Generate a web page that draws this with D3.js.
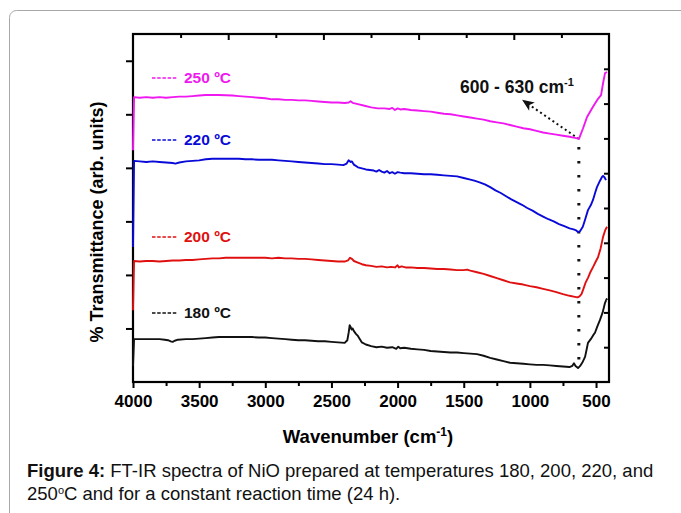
<!DOCTYPE html>
<html><head><meta charset="utf-8">
<script src="https://cdn.jsdelivr.net/npm/d3@7"></script>
<style>body{margin:0;background:#fff}svg{display:block}</style>
</head><body>
<script>
// ---- data ----
const seriesNames = ["180 ºC", "200 ºC", "220 ºC", "250 ºC"];
const seriesColors = ["#111111", "#e01010", "#0a0ad8", "#f018f0"];
const xTickValues = [4000, 3500, 3000, 2500, 2000, 1500, 1000, 500];
// [wavenumber (cm-1), transmittance (arb.)]
const s180 = [[4000,0.3],[3992,0.80],[3950,0.80],[3900,0.80],[3850,0.80],[3800,0.80],[3760,0.79],[3735,0.78],[3715,0.76],[3700,0.75],[3685,0.77],[3660,0.79],[3600,0.80],[3550,0.80],[3500,0.81],[3450,0.82],[3400,0.83],[3350,0.84],[3300,0.84],[3250,0.84],[3200,0.84],[3150,0.84],[3100,0.84],[3050,0.83],[3000,0.83],[2950,0.82],[2900,0.81],[2850,0.80],[2800,0.79],[2750,0.78],[2700,0.78],[2650,0.77],[2600,0.76],[2550,0.76],[2500,0.75],[2450,0.74],[2400,0.73],[2380,0.78],[2370,0.92],[2362,1.06],[2355,1.03],[2348,0.98],[2340,1.00],[2330,0.95],[2315,0.90],[2300,0.86],[2285,0.80],[2270,0.74],[2240,0.70],[2200,0.67],[2160,0.65],[2120,0.66],[2080,0.64],[2040,0.65],[2010,0.62],[1995,0.66],[1980,0.63],[1950,0.64],[1900,0.62],[1850,0.61],[1800,0.60],[1750,0.58],[1700,0.57],[1650,0.56],[1600,0.55],[1550,0.55],[1500,0.54],[1450,0.53],[1400,0.52],[1350,0.49],[1300,0.45],[1250,0.42],[1200,0.39],[1150,0.36],[1100,0.35],[1050,0.34],[1000,0.33],[950,0.32],[900,0.32],[850,0.31],[800,0.30],[750,0.29],[700,0.28],[680,0.30],[667,0.35],[655,0.30],[636,0.26],[620,0.30],[600,0.38],[583,0.47],[570,0.62],[561,0.73],[540,0.80],[520,0.88],[508,0.92],[490,1.04],[470,1.16],[450,1.30],[432,1.48],[420,1.55],[417,1.53]];
const s200 = [[4000,1.34],[3992,2.26],[3950,2.25],[3900,2.26],[3850,2.26],[3800,2.25],[3750,2.26],[3700,2.27],[3650,2.27],[3600,2.28],[3550,2.28],[3500,2.29],[3450,2.30],[3400,2.31],[3350,2.31],[3300,2.32],[3250,2.32],[3200,2.32],[3150,2.32],[3100,2.32],[3050,2.32],[3000,2.32],[2950,2.31],[2900,2.32],[2850,2.31],[2800,2.31],[2750,2.30],[2700,2.30],[2650,2.29],[2600,2.28],[2550,2.27],[2500,2.26],[2450,2.25],[2400,2.25],[2375,2.27],[2360,2.32],[2345,2.30],[2330,2.26],[2300,2.23],[2270,2.20],[2240,2.18],[2200,2.17],[2160,2.15],[2120,2.16],[2080,2.14],[2050,2.15],[2020,2.14],[2000,2.18],[1990,2.14],[1970,2.16],[1940,2.14],[1900,2.14],[1850,2.13],[1800,2.13],[1750,2.12],[1700,2.11],[1650,2.11],[1600,2.10],[1550,2.09],[1500,2.09],[1475,2.10],[1450,2.08],[1400,2.05],[1350,2.02],[1300,1.98],[1250,1.94],[1200,1.90],[1150,1.86],[1100,1.84],[1050,1.82],[1000,1.79],[950,1.77],[900,1.74],[850,1.71],[800,1.68],[750,1.64],[700,1.61],[660,1.59],[640,1.58],[625,1.60],[610,1.64],[598,1.72],[580,1.85],[560,1.95],[545,2.04],[520,2.16],[500,2.26],[485,2.33],[465,2.50],[447,2.71],[430,2.84],[417,2.90]];
const s220 = [[4000,2.52],[3992,4.13],[3950,4.12],[3900,4.11],[3850,4.12],[3800,4.11],[3750,4.10],[3700,4.09],[3680,4.08],[3650,4.10],[3600,4.12],[3550,4.13],[3500,4.14],[3450,4.16],[3400,4.17],[3350,4.17],[3300,4.17],[3250,4.17],[3200,4.17],[3150,4.16],[3100,4.16],[3050,4.15],[3000,4.15],[2950,4.15],[2900,4.14],[2850,4.13],[2800,4.12],[2750,4.11],[2700,4.10],[2650,4.09],[2600,4.08],[2550,4.07],[2500,4.07],[2450,4.06],[2410,4.05],[2385,4.08],[2370,4.14],[2355,4.11],[2345,4.12],[2330,4.06],[2300,4.01],[2270,3.99],[2240,3.97],[2210,3.96],[2180,3.95],[2160,3.93],[2140,3.96],[2120,3.93],[2100,3.91],[2080,3.94],[2060,3.90],[2040,3.92],[2020,3.89],[2000,3.92],[1980,3.91],[1950,3.90],[1900,3.90],[1850,3.89],[1800,3.88],[1750,3.88],[1700,3.87],[1650,3.86],[1600,3.85],[1550,3.84],[1500,3.81],[1450,3.78],[1420,3.76],[1380,3.73],[1340,3.69],[1300,3.64],[1260,3.58],[1220,3.53],[1180,3.47],[1140,3.41],[1100,3.36],[1060,3.31],[1020,3.25],[980,3.20],[940,3.14],[900,3.09],[860,3.04],[820,3.00],[780,2.95],[740,2.91],[700,2.87],[670,2.85],[650,2.83],[636,2.80],[620,2.82],[600,2.90],[583,3.03],[561,3.21],[540,3.30],[523,3.40],[505,3.55],[493,3.64],[470,3.76],[455,3.83],[447,3.85],[435,3.82],[425,3.77]];
const s250 = [[4000,4.33],[3992,5.32],[3950,5.31],[3900,5.32],[3850,5.31],[3800,5.32],[3750,5.31],[3700,5.32],[3650,5.33],[3600,5.33],[3550,5.34],[3500,5.35],[3450,5.36],[3400,5.36],[3350,5.36],[3300,5.355],[3250,5.35],[3200,5.34],[3150,5.33],[3100,5.32],[3050,5.31],[3000,5.30],[2950,5.28],[2900,5.28],[2850,5.27],[2800,5.27],[2750,5.26],[2700,5.26],[2650,5.25],[2600,5.24],[2550,5.23],[2500,5.22],[2450,5.22],[2400,5.21],[2370,5.22],[2355,5.245],[2340,5.215],[2300,5.19],[2250,5.16],[2200,5.13],[2150,5.11],[2100,5.11],[2060,5.10],[2040,5.12],[2020,5.08],[2000,5.11],[1980,5.09],[1950,5.10],[1900,5.08],[1850,5.07],[1800,5.06],[1750,5.05],[1700,5.03],[1650,5.01],[1600,5.00],[1550,4.98],[1500,4.96],[1450,4.94],[1400,4.92],[1350,4.90],[1300,4.87],[1250,4.85],[1200,4.83],[1150,4.80],[1100,4.77],[1050,4.74],[1000,4.72],[950,4.69],[900,4.66],[850,4.64],[800,4.62],[750,4.60],[700,4.58],[660,4.56],[640,4.55],[629,4.54],[598,4.74],[568,4.95],[523,5.14],[485,5.29],[462,5.36],[447,5.58],[432,5.77],[417,5.79]];
const allSeries = [s180, s200, s220, s250];
const peakRange = "600 - 630 cm";
const peakWave = 630;
const peakTop = 4.54, peakBottom = 0.28;
const arrowTip = [1059, 5.27];

const W = 681, H = 513;
const svg = d3.select("body").append("svg").attr("width", W).attr("height", H)
  .style("font-family", "Arial, 'Liberation Sans', sans-serif");

// panel border
svg.append("rect").attr("x", 9.5).attr("y", 10.5).attr("width", 720).attr("height", 540)
  .attr("rx", 7).attr("fill", "none").attr("stroke", "#a8a8a8").attr("stroke-width", 1);

const L = 133, R = 609, T = 34, B = 382;
const x = d3.scaleLinear().domain([4000, 402]).range([L, R]);
const y = d3.scaleLinear().domain([0, 6.5]).range([B, T]);

const line = d3.line().x(d => x(d[0])).y(d => y(d[1]));

const g = svg.append("g");
// bottom axis
const xAxis = d3.axisBottom(x).tickValues(d3.range(4000, 401, -250))
  .tickSize(0).tickFormat("");
const gb = g.append("g").attr("transform", `translate(0,${B})`).call(xAxis);
gb.select(".domain").remove();
gb.selectAll(".tick line").attr("y2", d => d % 500 === 0 ? 6 : 4).attr("stroke", "#000").attr("stroke-width", 2);
gb.selectAll(".tick").filter(d => xTickValues.includes(d)).append("text")
  .attr("y", 25).attr("fill", "#000").attr("text-anchor", "middle")
  .style("font-size", "17px").style("font-weight", "bold").text(d => d);

// top axis (independent scale)
const xt = d3.scaleLinear().domain([0, 10]).range([L, R]);
const gt = g.append("g").attr("transform", `translate(0,${T})`)
  .call(d3.axisBottom(xt).tickValues(d3.range(1, 10)).tickFormat(""));
gt.select(".domain").remove();
gt.selectAll(".tick line").attr("y2", d => d % 2 === 0 ? 6 : 4).attr("stroke", "#000").attr("stroke-width", 2);

// left axis
const gl = g.append("g").attr("transform", `translate(${L},0)`)
  .call(d3.axisLeft(y).tickValues(d3.range(1, 7)).tickSize(7).tickFormat(""));
gl.select(".domain").remove();
gl.selectAll(".tick line").attr("stroke", "#000").attr("stroke-width", 2);

// right axis
const yr = d3.scaleLinear().domain([0, 10]).range([B, T]);
const gr = g.append("g").attr("transform", `translate(${R},0)`)
  .call(d3.axisLeft(yr).tickValues(d3.range(1, 10)).tickSize(5).tickFormat(""));
gr.select(".domain").remove();
gr.selectAll(".tick line").attr("stroke", "#000").attr("stroke-width", 2);

// dotted vertical marker
svg.append("line").attr("x1", x(peakWave)).attr("x2", x(peakWave))
  .attr("y1", y(peakTop) + 8).attr("y2", y(peakBottom))
  .attr("stroke", "#111").attr("stroke-width", 3).attr("stroke-dasharray", "2.5,11.5");

// dotted arrow
const ax0 = x(peakWave), ay0 = y(peakTop), ax1 = x(arrowTip[0]), ay1 = y(arrowTip[1]);
svg.append("line").attr("x1", ax0).attr("y1", ay0).attr("x2", ax1 + 8).attr("y2", ay1 + 5.5)
  .attr("stroke", "#111").attr("stroke-width", 2).attr("stroke-dasharray", "2,3");
const ang = Math.atan2(ay1 - ay0, ax1 - ax0) * 180 / Math.PI;
svg.append("path").attr("d", "M0,0 L-12,-5 L-9,0 L-12,5 Z")
  .attr("transform", `translate(${ax1},${ay1}) rotate(${ang})`).attr("fill", "#111");

// frame
svg.append("rect").attr("x", L).attr("y", T).attr("width", R - L).attr("height", B - T)
  .attr("fill", "none").attr("stroke", "#000").attr("stroke-width", 2.2);

// spectra
allSeries.forEach((s, i) => {
  svg.append("path").datum(s).attr("d", line).attr("fill", "none")
    .attr("stroke", seriesColors[i]).attr("stroke-width", 1.9).attr("stroke-linejoin", "round");
});

// legend labels
const legY = [318, 242, 145, 83];
seriesNames.forEach((n, i) => {
  svg.append("line").attr("x1", 152).attr("x2", 177).attr("y1", legY[i] - 5).attr("y2", legY[i] - 5)
    .attr("stroke", seriesColors[i]).attr("stroke-width", 1.5).attr("stroke-dasharray", "3.5,1.7");
  svg.append("text").attr("x", 184).attr("y", legY[i]).attr("fill", seriesColors[i])
    .style("font-size", "15.5px").style("font-weight", "bold").text(n);
});

// annotation text
const at = svg.append("text").attr("x", 460).attr("y", 93).attr("fill", "#111")
  .style("font-size", "17.5px").style("font-weight", "bold");
at.append("tspan").text(peakRange);
at.append("tspan").attr("dy", -7).style("font-size", "11px").text("-1");

// axis titles
svg.append("text").attr("transform", "translate(103,222) rotate(-90)")
  .attr("text-anchor", "middle").style("font-size", "18px").style("font-weight", "bold")
  .text("% Transmittance (arb. units)");
const xl = svg.append("text").attr("x", 368).attr("y", 443).attr("text-anchor", "middle")
  .style("font-size", "18.5px").style("font-weight", "bold");
xl.append("tspan").text("Wavenumber (cm");
xl.append("tspan").attr("dy", -7).style("font-size", "12px").text("-1");
xl.append("tspan").attr("dy", 7).text(")");

// caption
const c1 = svg.append("text").attr("x", 27).attr("y", 477).style("font-size", "18.5px").attr("fill", "#111");
c1.append("tspan").style("font-weight", "bold").text("Figure 4:");
c1.append("tspan").text(" FT-IR spectra of NiO prepared at temperatures 180, 200, 220, and");
const c2 = svg.append("text").attr("x", 27).attr("y", 500).style("font-size", "18.5px").attr("fill", "#111");
c2.append("tspan").text("250");
c2.append("tspan").attr("dy", -6).style("font-size", "11px").text("o");
c2.append("tspan").attr("dy", 6).text("C and for a constant reaction time (24 h).");
</script>
</body></html>
